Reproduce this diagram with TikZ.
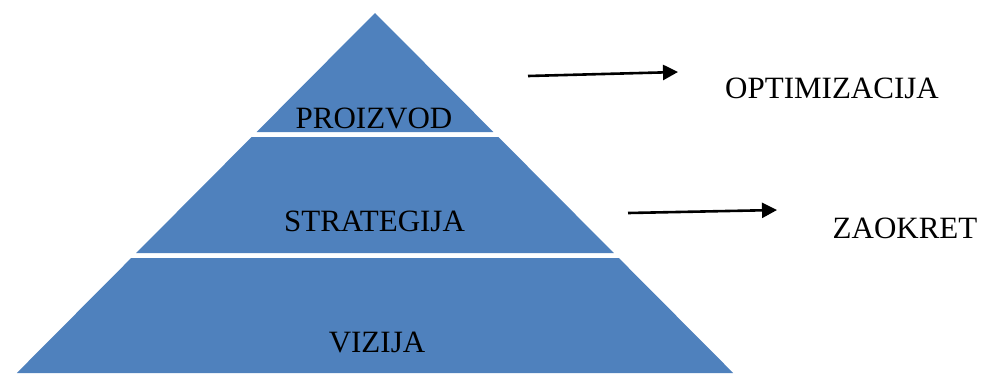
\documentclass[tikz,border=0pt]{standalone}
\usepackage{fontspec}
\setmainfont{Liberation Serif}
\usetikzlibrary{arrows.meta}
\definecolor{pyrblue}{HTML}{4F81BD}
\begin{document}
\begin{tikzpicture}[x=1pt,y=-1pt,
  layer/.style={fill=pyrblue,draw=none},
  lbl/.style={font=\fontsize{31}{36}\selectfont,anchor=base,inner sep=0pt,text=black},
  arr/.style={line width=2.6pt,-{Triangle[length=15pt,width=15pt]}}]
\useasboundingbox (0,0) rectangle (984,373);
% layers: half width = (y-13)*0.995, centre x = 375
\fill[layer] (375,13) -- (493.4,132) -- (256.6,132) -- cycle;
\fill[layer] (251.6,137) -- (498.4,137) -- (613.8,253) -- (136.2,253) -- cycle;
\fill[layer] (131.2,258) -- (618.8,258) -- (733.2,373) -- (16.8,373) -- cycle;
\node[lbl] (proizvod) at (374,128) {PROIZVOD};
\node[lbl] (strategija) at (374.5,231) {STRATEGIJA};
\node[lbl] (vizija) at (377,352) {VIZIJA};
\node[lbl] (optim) at (832,98) {OPTIMIZACIJA};
\node[lbl] (zaokret) at (905,238) {ZAOKRET};
\coordinate (a1s) at (528,76);
\coordinate (a1e) at (678,72);
\coordinate (a2s) at (628,213);
\coordinate (a2e) at (777,210);
\draw[arr] (a1s) -- (a1e);
\draw[arr] (a2s) -- (a2e);
\end{tikzpicture}
\end{document}
